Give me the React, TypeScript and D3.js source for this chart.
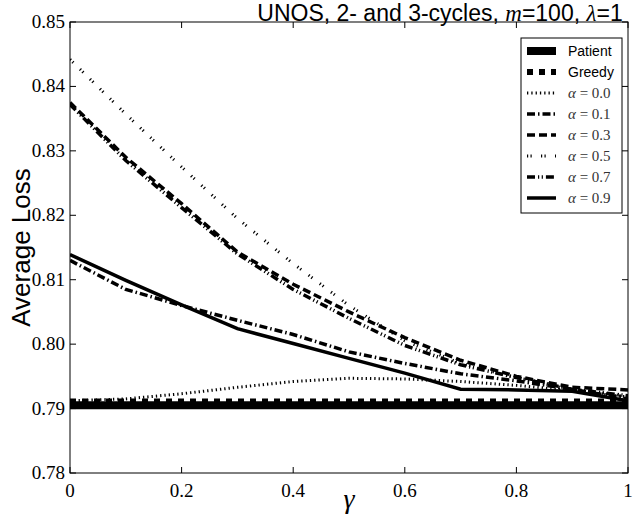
import React from "react";
import * as d3 from "d3";

const gammas = [0, 0.1, 0.2, 0.3, 0.4, 0.5, 0.6, 0.7, 0.8, 0.9, 1.0];
const patient = [0.7905, 0.7905, 0.7905, 0.7905, 0.7905, 0.7905, 0.7905, 0.7905, 0.7905, 0.7905, 0.7905];
const greedy = [0.7911, 0.7911, 0.7911, 0.7911, 0.7911, 0.7911, 0.7911, 0.7911, 0.7911, 0.7911, 0.7911];
const alpha00 = [0.7912, 0.7915, 0.7923, 0.7933, 0.7942, 0.7947, 0.7946, 0.7942, 0.7936, 0.7928, 0.7918];
const alpha01 = [0.813, 0.8085, 0.806, 0.8037, 0.8015, 0.7988, 0.797, 0.7954, 0.7943, 0.793, 0.7915];
const alpha03 = [0.8375, 0.829, 0.8218, 0.8143, 0.8093, 0.805, 0.801, 0.7975, 0.795, 0.7933, 0.7929];
const alpha05 = [0.8442, 0.8357, 0.8275, 0.8195, 0.8125, 0.806, 0.8005, 0.797, 0.7948, 0.7932, 0.7918];
const alpha07 = [0.8372, 0.8285, 0.8212, 0.814, 0.8085, 0.804, 0.7998, 0.7968, 0.7948, 0.793, 0.792];
const alpha09 = [0.8139, 0.8099, 0.8061, 0.8024, 0.8001, 0.7978, 0.7955, 0.793, 0.7929, 0.7927, 0.7912];

const xTicks = [0, 0.2, 0.4, 0.6, 0.8, 1];
const xTickLabels = ["0", "0.2", "0.4", "0.6", "0.8", "1"];
const yTicks = [0.78, 0.79, 0.8, 0.81, 0.82, 0.83, 0.84, 0.85];
const yTickLabels = ["0.78", "0.79", "0.80", "0.81", "0.82", "0.83", "0.84", "0.85"];

const seriesNames = ["Patient", "Greedy", "0.0", "0.1", "0.3", "0.5", "0.7", "0.9"];
const seriesValues = [patient, greedy, alpha00, alpha01, alpha03, alpha05, alpha07, alpha09];
const seriesStyles = [
  { w: 8, dash: "none" },
  { w: 6, dash: "6,6" },
  { w: 3, dash: "1.3,3" },
  { w: 3.5, dash: "8,3,1.5,3" },
  { w: 3.5, dash: "8,4" },
  { w: 3, dash: "1.2,2.3,1.2,9.3" },
  { w: 3.5, dash: "8,3,1.2,2.5,1.2,3" },
  { w: 3.5, dash: "none" },
];

const L = 70, R = 628, T = 22, B = 473;
const SANS = "'Liberation Sans', Arial, Helvetica, sans-serif";
const SERIF = "'Liberation Serif', 'DejaVu Serif', serif";

export default function App() {
  const x = d3.scaleLinear().domain([0, 1]).range([L, R]);
  const y = d3.scaleLinear().domain([0.78, 0.85]).range([B, T]);
  const line = d3.line<number>().x((_, i) => x(gammas[i])).y((v) => y(v));

  const legX = 521, legY = 38, legW = 101, legH = 175, rowH = 21;

  return (
    <svg width={640} height={514} style={{ position: "absolute", left: 0, top: 0, background: "#fff" }}>
      <rect x={0} y={0} width={640} height={514} fill="#fff" />
      <defs>
        <clipPath id="plotclip">
          <rect x={L} y={T} width={R - L} height={B - T} />
        </clipPath>
      </defs>
      <g clipPath="url(#plotclip)">
        {seriesValues.map((vals, k) => (
          <path
            key={k}
            d={line(vals) || ""}
            fill="none"
            stroke="#000"
            strokeWidth={seriesStyles[k].w}
            strokeDasharray={seriesStyles[k].dash}
            strokeLinejoin="miter"
          />
        ))}
      </g>
      <rect x={L} y={T} width={R - L} height={B - T} fill="none" stroke="#000" strokeWidth={1} />
      {xTicks.map((t, i) => (
        <g key={"xt" + i}>
          <line x1={x(t)} x2={x(t)} y1={B} y2={B - 6} stroke="#000" />
          <line x1={x(t)} x2={x(t)} y1={T} y2={T + 6} stroke="#000" />
          <text x={x(t)} y={B + 24} textAnchor="middle" fontFamily={SERIF} fontSize={19}>
            {xTickLabels[i]}
          </text>
        </g>
      ))}
      {yTicks.map((t, i) => (
        <g key={"yt" + i}>
          <line x1={L} x2={L + 6} y1={y(t)} y2={y(t)} stroke="#000" />
          <line x1={R} x2={R - 6} y1={y(t)} y2={y(t)} stroke="#000" />
          <text x={L - 5} y={y(t) + 6} textAnchor="end" fontFamily={SERIF} fontSize={19}>
            {yTickLabels[i]}
          </text>
        </g>
      ))}
      <text x={440} y={20.5} textAnchor="middle" fontFamily={SANS} fontSize={23}>
        UNOS, 2- and 3-cycles, <tspan fontFamily={SERIF} fontStyle="italic">m</tspan>=100,{" "}
        <tspan fontFamily={SERIF} fontStyle="italic">λ</tspan>=1
      </text>
      <text
        transform={`translate(30, ${(T + B) / 2}) rotate(-90)`}
        textAnchor="middle"
        fontFamily={SANS}
        fontSize={26}
      >
        Average Loss
      </text>
      <text x={(L + R) / 2} y={508} textAnchor="middle" fontFamily={SERIF} fontStyle="italic" fontSize={28}>
        γ
      </text>
      <rect x={legX} y={legY} width={legW} height={legH} fill="#fff" stroke="#000" strokeWidth={1} />
      {seriesNames.map((nm, k) => {
        const ry = legY + 13 + k * rowH;
        return (
          <g key={"lg" + k}>
            <line
              x1={527}
              x2={556}
              y1={ry}
              y2={ry}
              stroke="#000"
              strokeWidth={seriesStyles[k].w}
              strokeDasharray={seriesStyles[k].dash}
            />
            {k < 2 ? (
              <text x={568} y={ry + 5} fontFamily={SANS} fontSize={14}>
                {nm}
              </text>
            ) : (
              <text x={568} y={ry + 5} fontFamily={SERIF} fontSize={15} fill="#333">
                <tspan fontStyle="italic">α</tspan> = {nm}
              </text>
            )}
          </g>
        );
      })}
    </svg>
  );
}
